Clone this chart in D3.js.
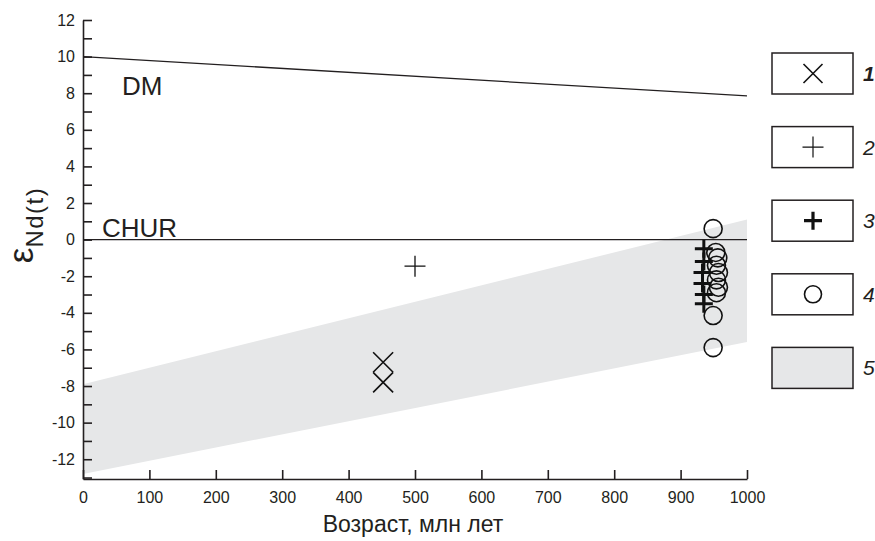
<!doctype html>
<html>
  <head>
    <meta charset="utf-8">
    <script src="https://cdn.jsdelivr.net/npm/d3@7"></script>
    <style>
      body { margin: 0; background: white; }
    </style>
  </head>
  <body>
    <svg class="chart"></svg>
    <script>
      // data
      const xTicks = [0, 100, 200, 300, 400, 500, 600, 700, 800, 900, 1000]
      const yTicks = [-12, -10, -8, -6, -4, -2, 0, 2, 4, 6, 8, 10, 12]
      const dmLine = [[0, 10], [1000, 7.85]]
      const churLine = [[0, 0], [1000, 0]]
      const bandTop = [[0, -7.9], [1000, 1.1]]
      const bandBottom = [[0, -12.8], [1000, -5.6]]
      const crosses = [[452, -6.7], [452, -7.8]]
      const thinPlus = [[500, -1.45]]
      const thickPlus = [[935, -0.5], [935, -1.2], [933, -1.8], [933, -2.4], [935, -3.0], [935, -3.5]]
      const circles = [[949, 0.6], [953, -0.7], [956, -1.0], [954, -1.4], [957, -1.8],
                       [954, -2.2], [957, -2.6], [954, -2.9], [949, -4.15], [949, -5.9]]
      const legendLabels = ["1", "2", "3", "4", "5"]

      const width = 875, height = 541
      const font = "'Liberation Sans', Arial, sans-serif"
      const ink = "#231f20"

      const x = d3.scaleLinear().domain([0, 1000]).range([83, 747])
      const y = d3.scaleLinear().domain([-13.08, 12]).range([479, 20])

      const svg = d3.select(".chart")
                    .attr("width", width)
                    .attr("height", height)
                    .attr("font-family", font)

      // grey field
      const line = d3.line().x(d => x(d[0])).y(d => y(d[1]))
      svg.append("path")
        .attr("d", line(bandTop.concat(bandBottom.slice().reverse())) + "Z")
        .attr("fill", "#e6e7e8")

      svg.append("path").attr("d", line(dmLine)).attr("stroke", ink).attr("stroke-width", 1.3).attr("fill", "none")
      svg.append("path").attr("d", line(churLine)).attr("stroke", ink).attr("stroke-width", 1.3).attr("fill", "none")

      svg.append("text").attr("x", 122).attr("y", 95).attr("font-size", 26).attr("fill", ink).text("DM")
      svg.append("text").attr("x", 102).attr("y", 237).attr("font-size", 26).attr("fill", ink).text("CHUR")

      // axes (ticks point inwards)
      const xAxis = d3.axisBottom(x).tickValues(xTicks).tickSizeInner(-9).tickSizeOuter(0).tickPadding(13)
        .tickFormat(d3.format("d"))
      const gx = svg.append("g")
        .attr("transform", "translate(0," + y(-13.08) + ")")
        .call(xAxis)

      const yMinor = d3.range(-13, 13)
      const yAxis = d3.axisLeft(y).tickValues(yMinor).tickSizeInner(-9).tickSizeOuter(0).tickPadding(8)
        .tickFormat(d => yTicks.includes(d) ? d : "")
      const gy = svg.append("g")
        .attr("transform", "translate(" + x(0) + ",0)")
        .call(yAxis)

      ;[gx, gy].forEach(function(g) {
        g.attr("font-family", font).attr("font-size", 16)
        g.select(".domain").attr("stroke", ink).attr("stroke-width", 1.6).attr("fill", "none")
        g.selectAll(".tick line").attr("stroke", ink).attr("stroke-width", 1.6)
        g.selectAll(".tick text").attr("fill", ink)
      })

      // axis titles
      svg.append("text")
        .attr("x", 413).attr("y", 532)
        .attr("text-anchor", "middle")
        .attr("font-size", 23).attr("fill", ink)
        .text("Возраст, млн лет")

      const yl = svg.append("text")
        .attr("transform", "translate(33,225) rotate(-90)")
        .attr("text-anchor", "middle")
        .attr("fill", ink)
      yl.append("tspan").attr("font-size", 35).text("ε")
      yl.append("tspan").attr("font-size", 24).attr("letter-spacing", 1.5).attr("dy", 10).text("Nd(t)")

      // marker shapes
      function crossPath(s) { return "M" + -s + "," + -s + "L" + s + "," + s + "M" + s + "," + -s + "L" + -s + "," + s }
      function plusPath(s) { return "M" + -s + ",0L" + s + ",0M0," + -s + "L0," + s }

      svg.selectAll(".cross").data(crosses).enter().append("path")
        .attr("class", "cross")
        .attr("transform", d => "translate(" + x(d[0]) + "," + y(d[1]) + ")")
        .attr("d", crossPath(10)).attr("stroke", "#111").attr("stroke-width", 1.6)

      svg.selectAll(".thin").data(thinPlus).enter().append("path")
        .attr("class", "thin")
        .attr("transform", d => "translate(" + x(d[0]) + "," + y(d[1]) + ")")
        .attr("d", plusPath(10.5)).attr("stroke", "#111").attr("stroke-width", 1.3)

      svg.selectAll(".circ").data(circles).enter().append("circle")
        .attr("class", "circ")
        .attr("cx", d => x(d[0])).attr("cy", d => y(d[1]))
        .attr("r", 9).attr("fill", "none").attr("stroke", "#111").attr("stroke-width", 1.6)

      svg.selectAll(".thick").data(thickPlus).enter().append("path")
        .attr("class", "thick")
        .attr("transform", d => "translate(" + x(d[0]) + "," + y(d[1]) + ")")
        .attr("d", plusPath(9)).attr("stroke", "#111").attr("stroke-width", 3)

      // legend
      const legend = svg.append("g").attr("transform", "translate(772,53)")
      const step = 73.6
      legendLabels.forEach(function(lab, i) {
        const g = legend.append("g").attr("transform", "translate(0," + i * step + ")")
        g.append("rect").attr("width", 81).attr("height", 41)
          .attr("fill", i === 4 ? "#e6e7e8" : "white")
          .attr("stroke", ink).attr("stroke-width", 1.5)
        const m = g.append("g").attr("transform", "translate(41,20.5)")
        if (i === 0) m.append("path").attr("d", crossPath(9.5)).attr("stroke", "#111").attr("stroke-width", 1.6)
        if (i === 1) m.append("path").attr("d", plusPath(10.5)).attr("stroke", "#111").attr("stroke-width", 1.2)
        if (i === 2) m.append("path").attr("d", plusPath(9)).attr("stroke", "#111").attr("stroke-width", 3.2)
        if (i === 3) m.append("circle").attr("r", 8.5).attr("fill", "none").attr("stroke", "#111").attr("stroke-width", 1.6)
        g.append("text").attr("x", 91).attr("y", 28)
          .attr("font-size", 21).attr("font-style", "italic")
          .attr("font-weight", i === 0 ? "bold" : "normal")
          .attr("fill", ink).text(lab)
      })
    </script>
  </body>
</html>
